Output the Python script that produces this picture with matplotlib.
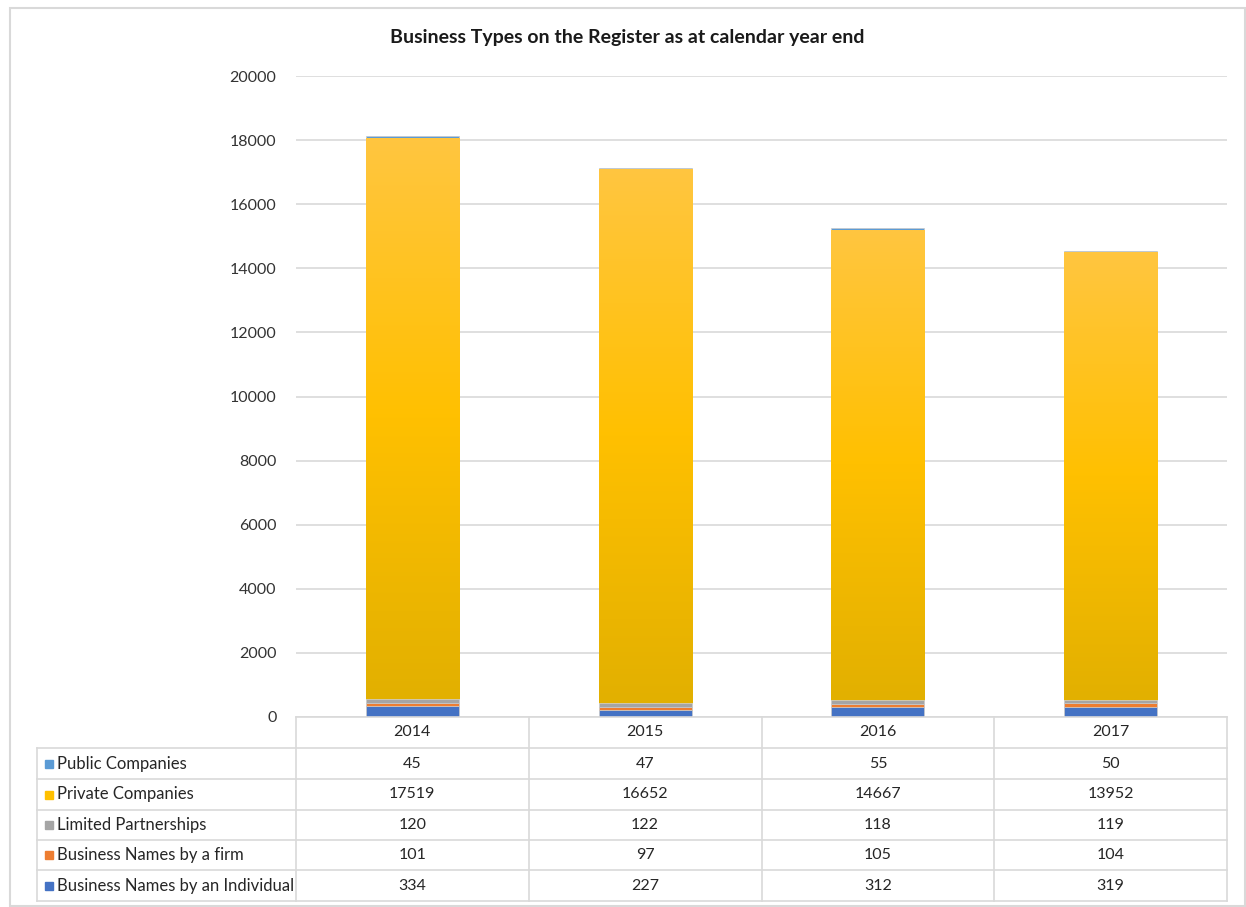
import numpy as np
import matplotlib
matplotlib.use('Agg')
import matplotlib.pyplot as plt
from matplotlib.patches import Rectangle
from matplotlib.lines import Line2D
from matplotlib.colors import LinearSegmentedColormap

plt.rcParams['font.family'] = ['Lato', 'DejaVu Sans']

years = ['2014', '2015', '2016', '2017']
series = ['Business Names by an Individual', 'Business Names by a firm',
          'Limited Partnerships', 'Private Companies', 'Public Companies']
individual = [334, 227, 312, 319]
firm = [101, 97, 105, 104]
limited = [120, 122, 118, 119]
private = [17519, 16652, 14667, 13952]
public = [45, 47, 55, 50]
values = [individual, firm, limited, private, public]
colors = ['#4472C4', '#ED7D31', '#A5A5A5', '#FFC000', '#5B9BD5']

W, H = 1246, 907
fig = plt.figure(figsize=(W / 100, H / 100), dpi=100)

# plot area in pixels
x0, x1, ytop, ybot = 296, 1227, 76, 717
ax = fig.add_axes([x0 / W, 1 - ybot / H, (x1 - x0) / W, (ybot - ytop) / H])

x = np.arange(len(years))
bottom = np.zeros(len(years))
grad = np.linspace(0, 1, 256).reshape(-1, 1)
ycmap = LinearSegmentedColormap.from_list('yel', ['#E2B000', '#FFC000', '#FFC640'])
for vals, col, name in zip(values, colors, series):
    bars = ax.bar(x, vals, 0.4, bottom=bottom, color=col, edgecolor='#C9C9C9',
                  linewidth=0.5, zorder=3, label=name)
    if name == 'Private Companies':
        # gradient fill like the original
        for b in bars:
            bx, by = b.get_x(), b.get_y()
            bw, bh = b.get_width(), b.get_height()
            im = ax.imshow(grad, cmap=ycmap, aspect='auto', origin='lower',
                           extent=[bx, bx + bw, by, by + bh], zorder=3.5)
            im.set_clip_path(b)
    bottom += np.array(vals)

ax.set_xlim(-0.5, len(years) - 0.5)
ax.set_ylim(0, 20000)
ax.set_yticks(np.arange(0, 20001, 2000))
ax.tick_params(axis='y', length=0, labelsize=11.5, labelcolor='#333333', pad=14)
ax.set_xticks([])
ax.grid(axis='y', color='#D9D9D9', linewidth=1.2, zorder=0)
for s in ax.spines.values():
    s.set_visible(False)

fig.text(627 / W, 1 - 38 / H, 'Business Types on the Register as at calendar year end',
         ha='center', va='center', fontsize=14, fontweight='bold', color='#1a1a1a')

# data table below the plot
line_col = '#D9D9D9'
tleft = 37
col_w = (x1 - x0) / len(years)
row_y = [717, 748, 779, 810, 840, 870, 901]


def fx(px):
    return px / W


def fy(py):
    return 1 - py / H


def hline(xa, xb, yy):
    fig.add_artist(Line2D([fx(xa), fx(xb)], [fy(yy), fy(yy)], color=line_col, lw=1.2))


def vline(xx, ya, yb):
    fig.add_artist(Line2D([fx(xx), fx(xx)], [fy(ya), fy(yb)], color=line_col, lw=1.2))


hline(x0, x1, row_y[0])
for yy in row_y[1:]:
    hline(tleft, x1, yy)
vline(tleft, row_y[1], row_y[-1])
for i in range(len(years) + 1):
    vline(x0 + i * col_w, row_y[0], row_y[-1])

for i, yr in enumerate(years):
    fig.text(fx(x0 + (i + 0.5) * col_w), fy((row_y[0] + row_y[1]) / 2), yr,
             ha='center', va='center', fontsize=11.5, color='#262626')

row_order = list(range(len(series)))[::-1]
for r, si in enumerate(row_order):
    yc = (row_y[r + 1] + row_y[r + 2]) / 2
    fig.add_artist(Rectangle((fx(45), fy(yc + 4)), 8 / W, 8 / H,
                             color=colors[si], transform=fig.transFigure))
    fig.text(fx(57), fy(yc), series[si], ha='left', va='center', fontsize=12,
             color='#262626')
    for i in range(len(years)):
        fig.text(fx(x0 + (i + 0.5) * col_w), fy(yc), str(values[si][i]),
                 ha='center', va='center', fontsize=11.5, color='#262626')

# outer frame
fig.add_artist(Rectangle((fx(10), fy(906)), (1245 - 10) / W, (906 - 8) / H,
                         fill=False, edgecolor='#D9D9D9', lw=1.5,
                         transform=fig.transFigure))

fig.savefig('out.png', dpi=100)
